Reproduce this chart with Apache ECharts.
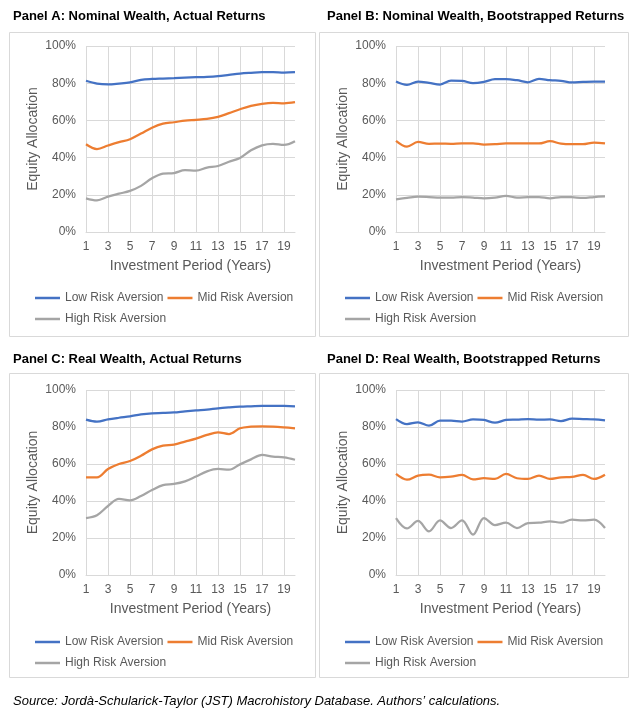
<!DOCTYPE html>
<html>
<head>
<meta charset="utf-8">
<script src="https://cdn.jsdelivr.net/npm/echarts@6/dist/echarts.min.js"></script>
<style>
html,body{margin:0;padding:0;background:#fff;}
#chart{width:640px;height:715px;}
</style>
</head>
<body>
<div id="chart"></div>
<script>
const periods = ['1','2','3','4','5','6','7','8','9','10','11','12','13','14','15','16','17','18','19','20'];
const seriesNames = ['Low Risk Aversion','Mid Risk Aversion','High Risk Aversion'];
const panelTitles = [
  'Panel A: Nominal Wealth, Actual Returns',
  'Panel B: Nominal Wealth, Bootstrapped Returns',
  'Panel C: Real Wealth, Actual Returns',
  'Panel D: Real Wealth, Bootstrapped Returns'
];
const yTicks = [0, 20, 40, 60, 80, 100];
const sourceText = 'Source: Jordà-Schularick-Taylor (JST) Macrohistory Database. Authors\u2019 calculations.';
const yAxisTitle = 'Equity Allocation';
const xAxisTitle = 'Investment Period (Years)';

// Panel A: Nominal wealth, actual returns
const aLow  = [81.3,79.8,79.4,79.8,80.4,81.8,82.3,82.5,82.7,83.0,83.2,83.4,83.8,84.5,85.2,85.6,85.9,85.9,85.7,85.9];
const aMid  = [47.2,44.6,46.5,48.3,49.9,52.9,56.1,58.3,59.0,59.9,60.3,60.8,61.9,63.9,66.0,67.8,68.9,69.4,69.2,69.8];
const aHigh = [18.1,17.0,19.0,20.6,22.1,24.8,28.9,31.4,31.7,33.2,33.0,34.6,35.5,37.8,39.8,43.9,46.6,47.4,46.8,48.8];
// Panel B: Nominal wealth, bootstrapped returns
const bLow  = [80.9,79.1,80.9,80.2,79.3,81.4,81.3,80.0,80.7,82.2,82.2,81.6,80.5,82.3,81.6,81.3,80.4,80.7,80.9,80.9];
const bMid  = [49.0,45.9,48.4,47.4,47.5,47.4,47.7,47.7,47.0,47.2,47.7,47.7,47.6,47.6,48.8,47.5,47.2,47.2,48.1,47.7];
const bHigh = [17.6,18.3,19.0,18.8,18.5,18.5,18.8,18.5,18.1,18.5,19.4,18.5,18.7,18.8,18.1,18.8,18.7,18.3,18.8,19.2];
// Panel C: Real wealth, actual returns
const cLow  = [84.0,82.9,84.1,85.0,85.8,86.8,87.4,87.6,87.9,88.5,89.0,89.4,90.1,90.6,91.0,91.2,91.4,91.4,91.4,91.2];
const cMid  = [52.8,52.8,57.3,60.0,61.6,64.5,67.9,69.9,70.5,72.1,73.7,75.7,77.1,76.2,79.3,80.2,80.4,80.2,79.8,79.3];
const cHigh = [30.8,32.3,37.3,41.1,40.4,42.7,45.9,48.6,49.2,50.6,53.2,56.0,57.3,56.9,59.8,62.5,64.9,64.0,63.6,62.3];
// Panel D: Real wealth, bootstrapped returns
const dLow  = [84.3,81.6,82.5,80.7,83.4,83.4,82.9,84.1,83.8,82.3,83.8,84.0,84.3,84.0,84.1,83.2,84.5,84.3,84.1,83.6];
const dMid  = [54.6,51.5,53.7,54.2,52.8,53.2,54.1,51.7,52.3,51.9,54.6,52.3,51.9,53.7,51.9,52.8,53.0,54.1,51.9,54.2];
const dHigh = [30.8,25.2,29.2,23.6,29.5,25.4,29.5,21.8,30.8,27.0,28.3,25.4,28.1,28.3,29.0,28.3,29.9,29.5,29.9,25.4];

const panelData = [[aLow,aMid,aHigh],[bLow,bMid,bHigh],[cLow,cMid,cHigh],[dLow,dMid,dHigh]];
const colors = ['#4472C4','#ED7D31','#A5A5A5'];
const FONT = "'Liberation Sans', Arial, sans-serif";

const layout = [
  {gl:86, gt:46, gh:186, bx:9.5, by:32.5, bw:306, bh:304, tl:8, tt:5, ll:35, lt:292},
  {gl:396, gt:46, gh:186, bx:319.5, by:32.5, bw:309, bh:304, tl:322, tt:5, ll:345, lt:292},
  {gl:86, gt:390, gh:185, bx:9.5, by:373.5, bw:306, bh:304, tl:8, tt:348, ll:35, lt:636},
  {gl:396, gt:390, gh:185, bx:319.5, by:373.5, bw:309, bh:304, tl:322, tt:348, ll:345, lt:636}
];

const legendCommon = {
  orient:'horizontal', icon:'rect', itemWidth:25, itemHeight:2.5, itemGap:4, padding:0,
  textStyle:{fontFamily:FONT, fontSize:12, color:'#595959'}, selectedMode:false
};
const legends = [];
layout.forEach(p=>{
  legends.push(Object.assign({}, legendCommon, {data:[seriesNames[0], seriesNames[1]], left:p.ll, top:p.lt}));
  legends.push(Object.assign({}, legendCommon, {data:[seriesNames[2]], left:p.ll, top:p.lt+21}));
});

const chart = echarts.init(document.getElementById('chart'), null, {renderer:'canvas'});
const option = {
  animation:false,
  textStyle:{fontFamily:FONT},
  color:colors,
  title: layout.map((p,i)=>({text:panelTitles[i], left:p.tl, top:p.tt, textStyle:{fontFamily:FONT, fontSize:13, fontWeight:'bold', color:'#000'}}))
    .concat([{text:sourceText, left:8, top:690, textStyle:{fontFamily:FONT, fontSize:13, fontStyle:'italic', fontWeight:'normal', color:'#000'}}]),
  graphic: layout.map(p=>({type:'rect', shape:{x:p.bx, y:p.by, width:p.bw, height:p.bh}, style:{fill:'none', stroke:'#d9d9d9', lineWidth:1}, silent:true, z:-1})),
  grid: layout.map(p=>({left:p.gl, top:p.gt, width:209, height:p.gh, containLabel:false})),
  legend: legends,
  xAxis: layout.map((p,i)=>({
    type:'category', gridIndex:i, data:periods, boundaryGap:false,
    axisLine:{lineStyle:{color:'#d9d9d9', width:1}},
    axisTick:{show:false},
    axisLabel:{interval:1, color:'#595959', fontSize:12, margin:9, fontFamily:FONT},
    splitLine:{show:true, interval:1, lineStyle:{color:'#d9d9d9', width:1}},
    name:xAxisTitle, nameLocation:'middle', nameGap:27,
    nameTextStyle:{color:'#595959', fontSize:14, fontFamily:FONT}
  })),
  yAxis: layout.map((p,i)=>({
    type:'value', gridIndex:i, min:yTicks[0], max:yTicks[yTicks.length-1], interval:20,
    axisLine:{show:false}, axisTick:{show:false},
    axisLabel:{formatter:'{value}%', color:'#595959', fontSize:12, margin:10, fontFamily:FONT},
    splitLine:{show:true, lineStyle:{color:'#d9d9d9', width:1}},
    name:yAxisTitle, nameLocation:'middle', nameGap:46, nameRotate:90,
    nameTextStyle:{color:'#595959', fontSize:14, fontFamily:FONT}
  })),
  series: []
};
panelData.forEach((arrs,i)=>{
  arrs.forEach((vals,j)=>{
    option.series.push({
      type:'line', name:seriesNames[j], xAxisIndex:i, yAxisIndex:i, data:vals,
      smooth:0.35, showSymbol:false, symbol:'none',
      lineStyle:{color:colors[j], width:2.25}, itemStyle:{color:colors[j]}
    });
  });
});
chart.setOption(option);
</script>
</body>
</html>
